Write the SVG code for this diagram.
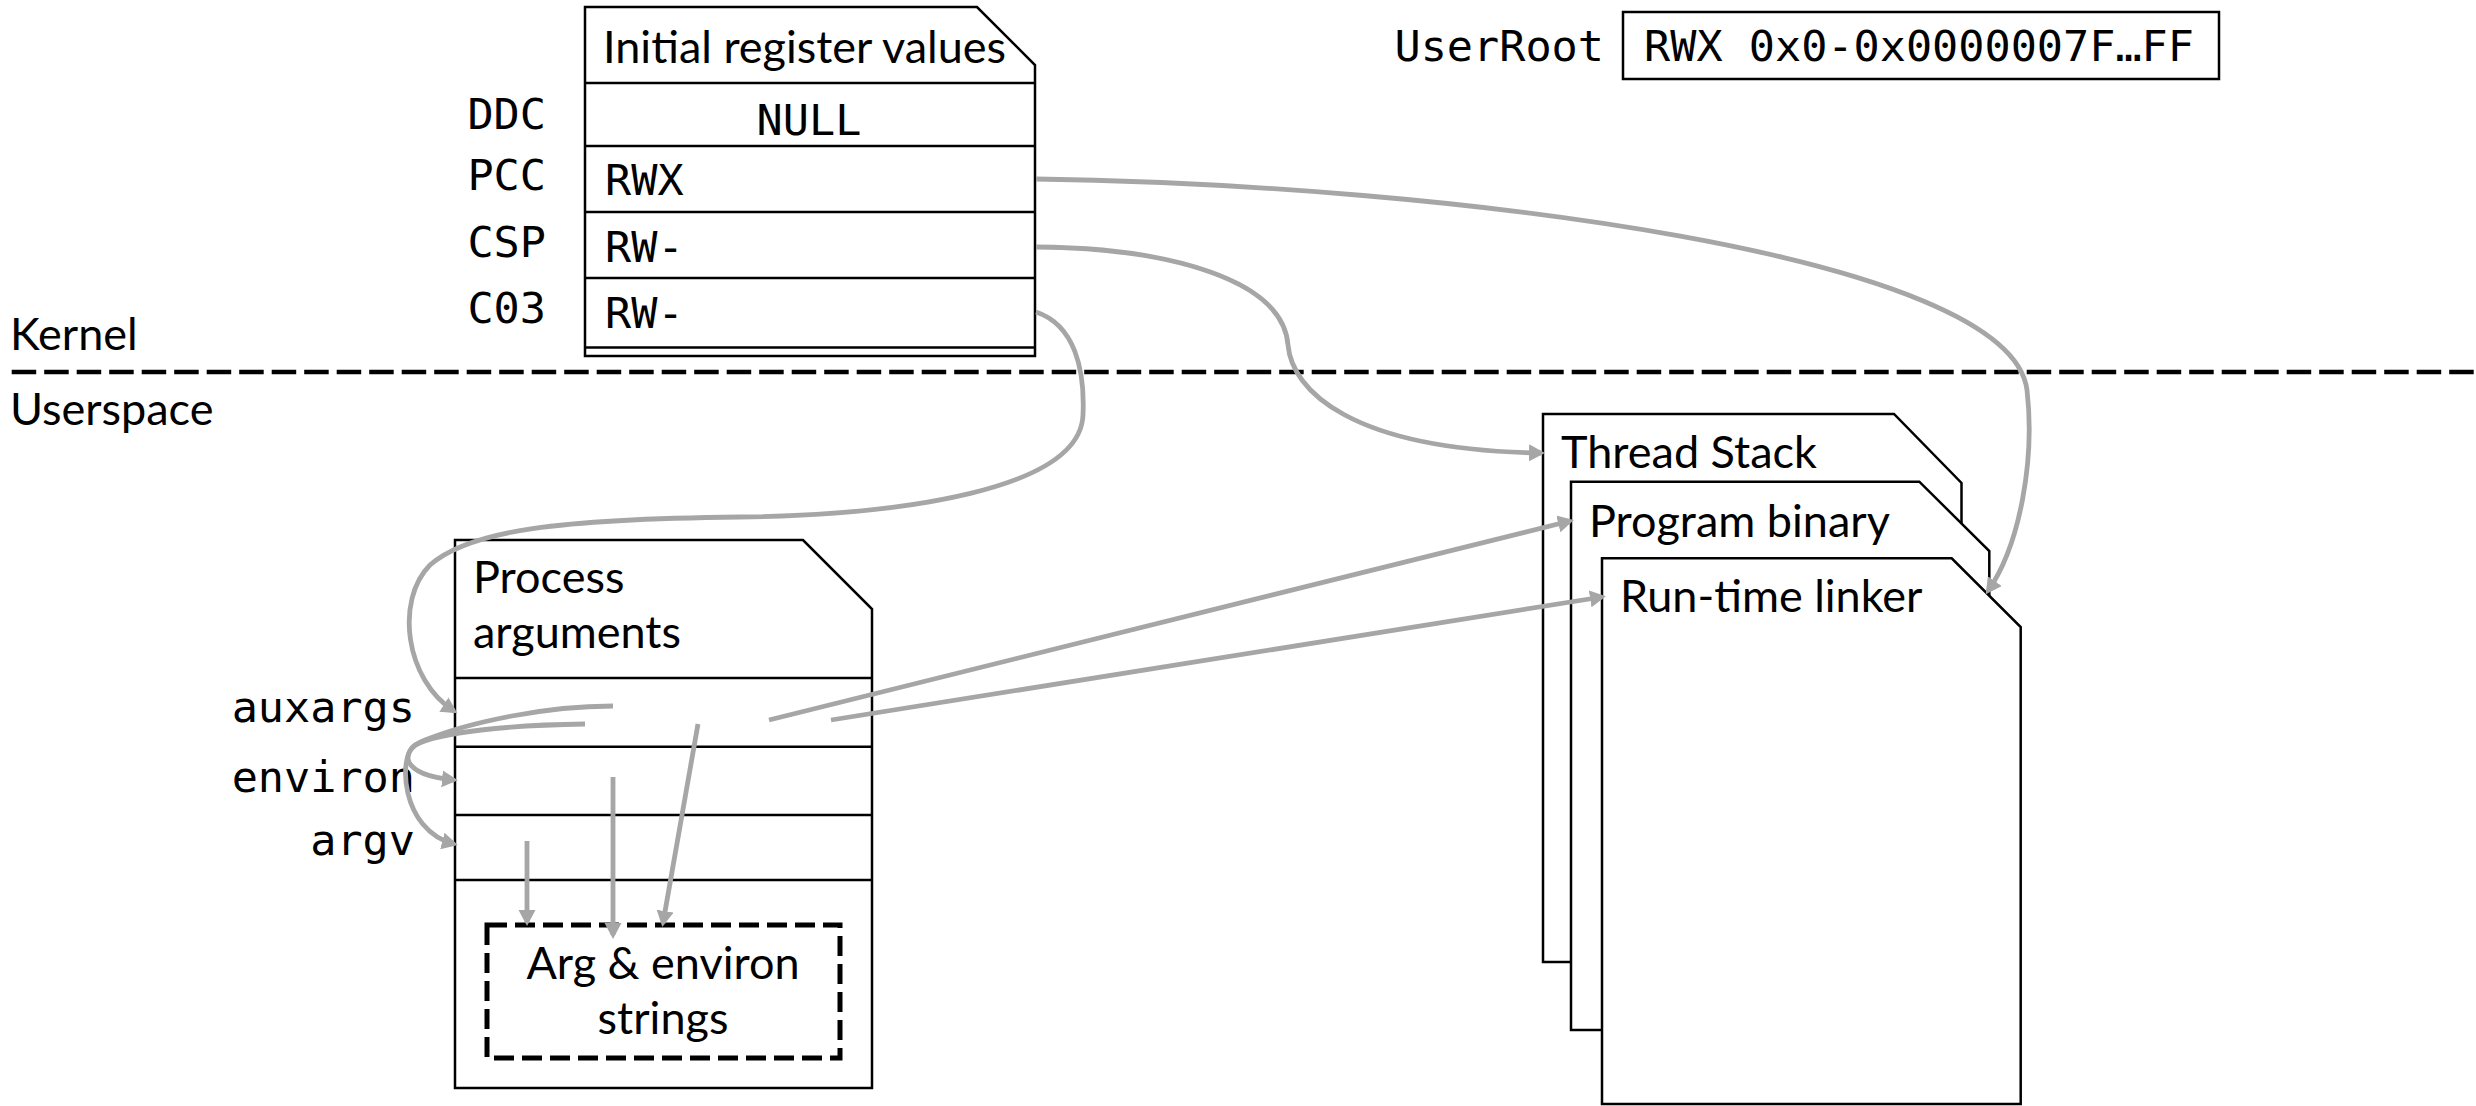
<svg xmlns="http://www.w3.org/2000/svg" width="2476" height="1106" viewBox="0 0 2476 1106">
  <defs>
    <style>
      .sans { font-family: Lato, "Open Sans", "Liberation Sans", sans-serif; font-size: 45px; fill: #000; }
      .mono { font-family: "DejaVu Sans Mono", "Liberation Mono", monospace; font-size: 43.5px; fill: #000; }
      .box { fill: #fff; stroke: #000; stroke-width: 2.5; }
      .rule { fill: none; stroke: #000; stroke-width: 2.5; }
      .conn { fill: none; stroke: #a6a6a6; stroke-width: 4.8; }
      .arr { marker-end: url(#ah); }
    </style>
    <marker id="ah" markerUnits="userSpaceOnUse" markerWidth="18" markerHeight="18" refX="12" refY="8.5" orient="auto">
      <path d="M0,0 L16,8.5 L0,17 Z" fill="#a6a6a6"/>
    </marker>
  </defs>
  <rect x="0" y="0" width="2476" height="1106" fill="#fff"/>

  <g id="boundary">
    <line x1="11.7" y1="372" x2="2476" y2="372" stroke="#000" stroke-width="4.5" stroke-dasharray="24.5 8"/>
    <text class="sans" x="10" y="350">Kernel</text>
    <text class="sans" x="10" y="425">Userspace</text>
  </g>

  <g id="registers">
    <path class="box" d="M585,7 H977 L1035,65 V356 H585 Z"/>
    <line class="rule" x1="585" y1="83" x2="1035" y2="83"/>
    <line class="rule" x1="585" y1="146" x2="1035" y2="146"/>
    <line class="rule" x1="585" y1="212" x2="1035" y2="212"/>
    <line class="rule" x1="585" y1="278" x2="1035" y2="278"/>
    <line class="rule" x1="585" y1="347.5" x2="1035" y2="347.5"/>
    <text class="sans" x="603" y="63">Initial register values</text>
    <text class="mono" x="809" y="135" text-anchor="middle">NULL</text>
    <text class="mono" x="605" y="195">RWX</text>
    <text class="mono" x="605" y="262">RW-</text>
    <text class="mono" x="605" y="328">RW-</text>
    <text class="mono" x="546" y="129" text-anchor="end">DDC</text>
    <text class="mono" x="546" y="190" text-anchor="end">PCC</text>
    <text class="mono" x="546" y="257" text-anchor="end">CSP</text>
    <text class="mono" x="546" y="323" text-anchor="end">C03</text>
  </g>

  <g id="userroot">
    <text class="mono" x="1604" y="61" text-anchor="end">UserRoot</text>
    <rect class="box" x="1623" y="12" width="596" height="67"/>
    <text class="mono" x="1644" y="61">RWX 0x0-0x0000007F…FF</text>
  </g>

  <g id="process-args">
    <path class="box" d="M455,540 H803 L872,609 V1088 H455 Z"/>
    <line class="rule" x1="455" y1="678" x2="872" y2="678"/>
    <line class="rule" x1="455" y1="746.7" x2="872" y2="746.7"/>
    <line class="rule" x1="455" y1="815" x2="872" y2="815"/>
    <line class="rule" x1="455" y1="880" x2="872" y2="880"/>
    <text class="sans" x="473" y="593">Process</text>
    <text class="sans" x="473" y="648">arguments</text>
    <text class="mono" x="415" y="722" text-anchor="end">auxargs</text>
    <text class="mono" x="415" y="791.5" text-anchor="end">environ</text>
    <text class="mono" x="415" y="855" text-anchor="end">argv</text>
  </g>

  <g id="strings">
    <rect x="487" y="925" width="353" height="133" fill="none" stroke="#000" stroke-width="5" stroke-dasharray="20 8"/>
    <text class="sans" x="663" y="979" text-anchor="middle">Arg &amp; environ</text>
    <text class="sans" x="663" y="1034" text-anchor="middle">strings</text>
  </g>

  <g id="thread-stack">
    <path class="box" d="M1543,414 H1894 L1961.5,483 V962 H1543 Z"/>
    <text class="sans" x="1561" y="468">Thread Stack</text>
  </g>

  <g id="program-binary">
    <path class="box" d="M1571,481.7 H1919.3 L1989.3,551 V1030 H1571 Z"/>
    <text class="sans" x="1589" y="536.7">Program binary</text>
  </g>

  <g id="rtld">
    <path class="box" d="M1602,558.3 H1951.7 L2020.7,627 V1104 H1602 Z"/>
    <text class="sans" x="1620" y="611.7">Run-time linker</text>
  </g>

  <g id="connectors">
    <path class="conn arr" d="M1036,179 C1450,185 2010,255 2027,390 C2035,460 2020,545 1988,591"/>
    <path class="conn arr" d="M1036,247 C1170,248 1283,280 1288,345 C1292,390 1350,450 1541,453"/>
    <path class="conn arr" d="M1036,312 C1075,325 1085,370 1083,415 C1080,490 900,515 740,517 C560,519 470,530 430,565 C395,600 405,680 454,711"/>
    <path class="conn arr" d="M613,706 C545,706 470,722 425,740 C398,751 400,775 454,780"/>
    <path class="conn arr" d="M585,724 C510,725 440,732 415,745 C398,755 400,830 454,844"/>
    <path class="conn arr" d="M527,841 L527,922"/>
    <path class="conn arr" d="M613,777 L613,935"/>
    <path class="conn arr" d="M698,724 L663,923"/>
    <path class="conn arr" d="M769,720 L1570,521"/>
    <path class="conn arr" d="M831,720 L1602,597"/>
  </g>
</svg>
